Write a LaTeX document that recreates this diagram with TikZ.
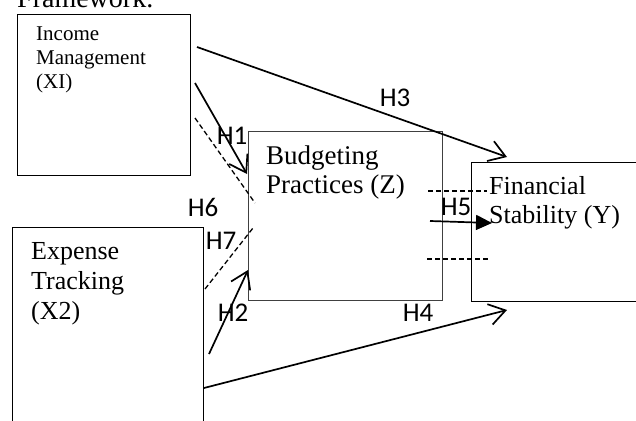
\documentclass[tikz,border=0pt]{standalone}
\usepackage{fontspec}
\setmainfont{Liberation Serif}
\newfontfamily\hfont{Carlito}
\usepackage{tikz}
\usetikzlibrary{arrows.meta}

\begin{document}
\begin{tikzpicture}[x=1pt,y=-1pt,
  box/.style={draw,line width=1.3pt,inner sep=0pt,anchor=north west},
  boxtext/.style={anchor=north west,inner sep=0pt,align=left},
  hyp/.style={font=\hfont\fontsize{27}{27}\selectfont,inner sep=0pt},
  link/.style={line width=1.7pt,-{Straight Barb[length=16pt,width=21pt]}},
  dashlink/.style={line width=1.3pt,dash pattern=on 5pt off 3pt}]
\useasboundingbox (0,0) rectangle (636,420);
\clip (0,0) rectangle (636,420);
\node (ttl) [boxtext,font=\fontsize{28}{28}\selectfont] at (17,-12) {Framework.};
\node (inc) [box,minimum width=173pt,minimum height=161pt] at (17,14) {};
\node (bud) [box,draw=black!75,minimum width=194pt,minimum height=169pt] at (248,131) {};
\node (fin) [box,minimum width=190pt,minimum height=139pt] at (471,162) {};
\node (exp) [box,minimum width=191pt,minimum height=220pt] at (12,227) {};
\node (inctxt) [boxtext,font=\fontsize{21}{24}\selectfont] at (36,27) {Income\\Management\\(XI)};
\node (budtxt) [boxtext,font=\fontsize{27}{29}\selectfont] at (266,146) {Budgeting\\Practices (Z)};
\node (exptxt) [boxtext,font=\fontsize{26}{30}\selectfont] at (31,242) {Expense\\Tracking\\(X2)};
\node (fintxt) [boxtext,font=\fontsize{26}{29}\selectfont] at (489,176) {Financial\\Stability (Y)};
\node (h1) [hyp] at (232,136) {H1};
\node (h2) [hyp] at (233,313) {H2};
\node (h3) [hyp] at (395,98) {H3};
\node (h4) [hyp] at (418,313) {H4};
\node (h5) [hyp] at (456,207) {H5};
\node (h6) [hyp] at (203,207) {H6};
\node (h7) [hyp] at (221,241) {H7};
\coordinate (h3a) at (197,47);
\coordinate (h3b) at (507,157);
\coordinate (h1a) at (195,83);
\coordinate (h1b) at (247,174);
\coordinate (h2a) at (209,354);
\coordinate (h2b) at (248,270);
\coordinate (h4a) at (204,388);
\coordinate (h4b) at (507,310);
\coordinate (h5a) at (430,221);
\coordinate (h5b) at (492,223);
\coordinate (h6a) at (195,118);
\coordinate (h6b) at (255,203);
\coordinate (h7a) at (205,289);
\coordinate (h7b) at (253,228);
\coordinate (upa) at (428,191);
\coordinate (upb) at (487,191);
\coordinate (loa) at (427,259);
\coordinate (lob) at (488,259);
\draw[link] (h3a) -- (h3b);
\draw[link] (h1a) -- (h1b);
\draw[link] (h2a) -- (h2b);
\draw[link] (h4a) -- (h4b);
\draw[line width=1.7pt,-{Triangle[length=16pt,width=15pt]}] (h5a) -- (h5b);
\draw[dashlink] (h6a) -- (h6b);
\draw[dashlink] (h7a) -- (h7b);
\draw[dashlink] (upa) -- (upb);
\draw[dashlink] (loa) -- (lob);
\end{tikzpicture}
\end{document}
